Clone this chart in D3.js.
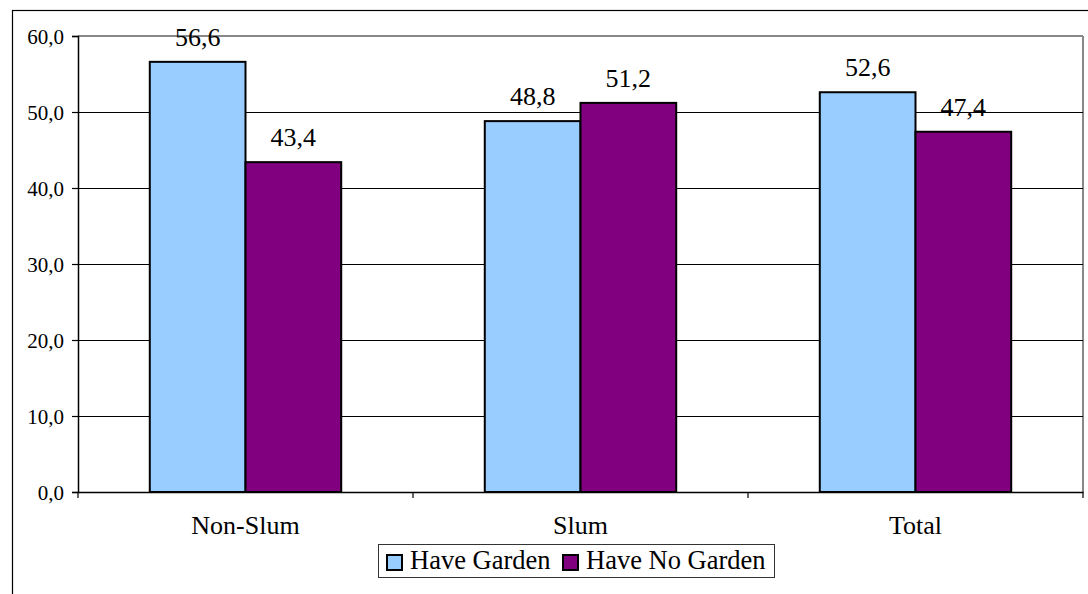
<!DOCTYPE html>
<html>
<head>
<meta charset="utf-8">
<script src="https://cdn.jsdelivr.net/npm/d3@7"></script>
<style>
  html, body { margin: 0; padding: 0; background: #fff; }
  svg { display: block; }
  svg text { font-family: "Liberation Serif", "Times New Roman", "DejaVu Serif", serif !important; fill: #000; }
</style>
</head>
<body>
<svg id="chart" width="1088" height="594"></svg>
<script>
// Share of households with / without a garden, by settlement type (%)
const categories = ["Non-Slum", "Slum", "Total"];
const seriesNames = ["Have Garden", "Have No Garden"];
const haveGarden = [56.6, 48.8, 52.6];
const haveNoGarden = [43.4, 51.2, 47.4];
const yTicks = [0, 10, 20, 30, 40, 50, 60];
const seriesColors = ["#99CCFF", "#800080"];

const SERIF = "Liberation Serif, Times New Roman, DejaVu Serif, serif";
const fmt = v => d3.format(".1f")(v).replace(".", ",");

const svg = d3.select("#chart");
const W = 1088, H = 594;
const plot = { left: 78, top: 36, right: 1083, bottom: 492 };

// outer chart frame (runs past the right and bottom edges)
svg.append("rect")
  .attr("x", 12.5).attr("y", 10.5)
  .attr("width", W).attr("height", H)
  .attr("fill", "none").attr("stroke", "#000").attr("stroke-width", 1.2);

const x0 = d3.scaleBand().domain(categories).range([plot.left, plot.right]).paddingInner(0).paddingOuter(0);
// gap between clusters is 1.5 bar widths: step = 3.5 bar widths
const x1 = d3.scaleBand().domain(seriesNames)
  .range([0, x0.bandwidth()]).paddingInner(0).paddingOuter(0.75);
const y = d3.scaleLinear().domain([0, 60]).range([plot.bottom, plot.top]);

// plot-area border: grey top and right
svg.append("line").attr("x1", plot.left).attr("x2", plot.right)
  .attr("y1", plot.top).attr("y2", plot.top).attr("stroke", "#888").attr("stroke-width", 2);
svg.append("line").attr("x1", plot.right).attr("x2", plot.right)
  .attr("y1", plot.top).attr("y2", plot.bottom).attr("stroke", "#888").attr("stroke-width", 2);

// horizontal gridlines
svg.append("g").selectAll("line")
  .data(yTicks.filter(t => t > 0 && t < 60))
  .join("line")
  .attr("x1", plot.left).attr("x2", plot.right)
  .attr("y1", d => Math.round(y(d)) + 0.5).attr("y2", d => Math.round(y(d)) + 0.5)
  .attr("stroke", "#000").attr("stroke-width", 1);

// y axis
const yAxis = d3.axisLeft(y).tickValues(yTicks).tickSize(6).tickPadding(8).tickFormat(fmt);
const gy = svg.append("g").attr("transform", `translate(${plot.left},0)`).call(yAxis)
  .attr("font-family", SERIF).attr("font-size", 21);
gy.select(".domain").attr("stroke", "#000").attr("stroke-width", 1.5);
gy.selectAll(".tick line").attr("stroke", "#000").attr("stroke-width", 1.2);
gy.selectAll(".tick text").attr("dy", "0.35em");

// bars
const groups = svg.append("g").selectAll("g")
  .data(categories)
  .join("g")
  .attr("transform", d => `translate(${x0(d)},0)`);

const barData = (c, i) => [
  { series: seriesNames[0], value: haveGarden[i], color: seriesColors[0] },
  { series: seriesNames[1], value: haveNoGarden[i], color: seriesColors[1] }
];

groups.selectAll("rect")
  .data((c, i) => barData(c, i))
  .join("rect")
  .attr("x", d => x1(d.series))
  .attr("y", d => y(d.value))
  .attr("width", x1.bandwidth())
  .attr("height", d => y(0) - y(d.value))
  .attr("fill", d => d.color)
  .attr("stroke", "#000").attr("stroke-width", 2);

groups.selectAll("text")
  .data((c, i) => barData(c, i))
  .join("text")
  .attr("x", d => x1(d.series) + x1.bandwidth() / 2)
  .attr("y", d => y(d.value) - 16)
  .attr("text-anchor", "middle")
  .attr("font-family", SERIF)
  .attr("font-size", 26)
  .text(d => fmt(d.value));

// x axis
const xAxis = d3.axisBottom(x0).tickSize(0).tickPadding(0);
const gx = svg.append("g").attr("transform", `translate(0,${plot.bottom})`).call(xAxis)
  .attr("font-family", SERIF).attr("font-size", 26);
gx.select(".domain").attr("stroke", "#000").attr("stroke-width", 1.5);
gx.selectAll(".tick text").attr("y", 42).attr("dy", 0);
// category boundary ticks
svg.append("g").selectAll("line")
  .data(categories.map(c => x0(c)).concat([x0(categories[categories.length - 1]) + x0.bandwidth()]))
  .join("line")
  .attr("x1", d => d).attr("x2", d => d)
  .attr("y1", plot.bottom).attr("y2", plot.bottom + 6)
  .attr("stroke", "#000").attr("stroke-width", 1.2);

// legend
const legend = svg.append("g").attr("font-family", SERIF).attr("font-size", 26.5);
legend.append("rect")
  .attr("x", 378.5).attr("y", 544.5).attr("width", 396).attr("height", 33)
  .attr("fill", "#fff").attr("stroke", "#333").attr("stroke-width", 1);
const legendX = [386, 562];
const items = legend.selectAll("g.item")
  .data(seriesNames)
  .join("g").attr("class", "item")
  .attr("transform", (d, i) => `translate(${legendX[i]},554)`);
items.append("rect")
  .attr("x", 1).attr("y", 1).attr("width", 15).attr("height", 15)
  .attr("fill", (d, i) => seriesColors[i])
  .attr("stroke", "#000").attr("stroke-width", 2);
items.append("text")
  .attr("x", 24).attr("y", 14.5)
  .text(d => d);
</script>
</body>
</html>
